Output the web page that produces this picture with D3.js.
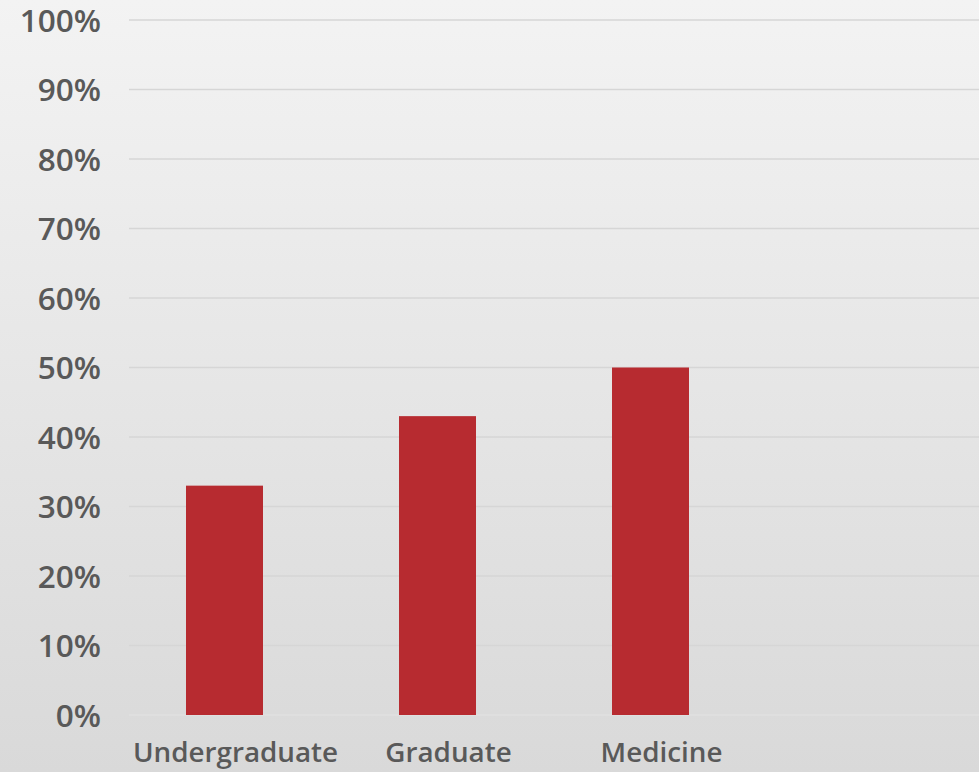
<!DOCTYPE html>
<html><head><meta charset="utf-8">
<script src="https://cdn.jsdelivr.net/npm/d3@7"></script>
<style>
html,body{margin:0;padding:0;}
body{width:979px;height:772px;overflow:hidden;}
</style></head>
<body>
<svg id="chart" width="979" height="772"></svg>
<script>
const categories = ["Undergraduate", "Graduate", "Medicine"];
const values = [0.33, 0.43, 0.50];
const yTicks = [0, 0.1, 0.2, 0.3, 0.4, 0.5, 0.6, 0.7, 0.8, 0.9, 1.0];

const FONT = "'Open Sans',Roboto,'Liberation Sans',sans-serif";
const W = 979, H = 772;
const svg = d3.select("#chart");
const defs = svg.append("defs");
const grad = defs.append("linearGradient").attr("id","bg").attr("x1",0).attr("y1",0).attr("x2",0).attr("y2",1);
grad.append("stop").attr("offset","0%").attr("stop-color","#f3f3f3");
grad.append("stop").attr("offset","100%").attr("stop-color","#d9d9d9");
svg.append("rect").attr("width",W).attr("height",H).attr("fill","url(#bg)");

const y = d3.scaleLinear().domain([0,1]).range([715,20]);
const x = d3.scaleBand().domain(categories).range([118, 118 + 213*categories.length])
  .paddingInner(0.6385).paddingOuter(0.6385/2);

// gridlines
svg.append("g").selectAll("line").data(yTicks).join("line")
  .attr("x1",129).attr("x2",W)
  .attr("y1",d=>y(d)).attr("y2",d=>y(d))
  .attr("stroke",d=>d===0?"#e0e0e0":"#d6d6d6").attr("stroke-width",1.5);

// y labels
const yAxis = d3.axisLeft(y).tickValues(yTicks).tickFormat(d3.format(".0%")).tickSize(0).tickPadding(0);
const gy = svg.append("g").attr("transform","translate(101,0)").call(yAxis);
gy.select(".domain").remove();
gy.selectAll("text").attr("font-size",31.5).attr("dy","0.36em")
  .style("font-family",FONT).style("font-weight",600).attr("fill","#595959");

// bars
svg.append("g").selectAll("rect").data(categories).join("rect")
  .attr("x",d=>x(d)).attr("width",x.bandwidth())
  .attr("y",(d,i)=>y(values[i])).attr("height",(d,i)=>y(0)-y(values[i]))
  .attr("fill","#b72b30");

// x labels
const xAxis = d3.axisBottom(x).tickSize(0).tickPadding(0);
const gx = svg.append("g").attr("transform","translate(11,0)").call(xAxis);
gx.select(".domain").remove();
gx.selectAll("text").attr("y",762).attr("dy",0).attr("font-size",27.8)
  .style("font-family",FONT).style("font-weight",600).attr("fill","#595959");
</script>
</body></html>
